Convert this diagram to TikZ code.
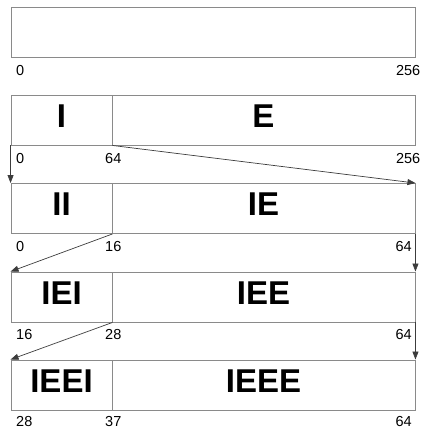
\documentclass[tikz,border=0pt]{standalone}
\usepackage{fontspec}
\setmainfont{Liberation Sans}
\usetikzlibrary{arrows.meta}
\definecolor{boxgray}{HTML}{8A8A8A}
\definecolor{arrowgray}{HTML}{3C3C3C}
\tikzset{
  cell/.style={draw=boxgray, line width=0.9pt, rectangle, inner sep=0pt, minimum height=50pt},
  leftcell/.style={cell, minimum width=101pt},
  rightcell/.style={cell, minimum width=303pt},
  big/.style={font=\fontsize{33}{33}\selectfont\bfseries, inner sep=0pt, anchor=base},
  num/.style={font=\fontsize{14.5}{14.5}\selectfont, inner sep=0pt},
  conn/.style={draw=arrowgray, line width=0.7pt, -{Triangle[length=8pt,width=6pt]}}
}
\begin{document}
\begin{tikzpicture}[x=1pt,y=-1pt]
\useasboundingbox (0,0) rectangle (424,428);
% row 1
\node[cell, minimum width=404pt] (r1) at (213,32) {};
\node[num, anchor=base west] (r1a) at (16,75) {0};
\node[num, anchor=base east] (r1b) at (420.5,75) {256};
% row 2
\node[leftcell] (r2L) at (61.5,120) {};
\node[rightcell] (r2R) at (263.5,120) {};
\node[big] (t2L) at (61.5,127) {I};
\node[big] (t2R) at (263.5,127) {E};
\node[num, anchor=base west] (r2a) at (16,163) {0};
\node[num, anchor=base west] (r2b) at (105,163) {64};
\node[num, anchor=base east] (r2c) at (420.5,163) {256};
% row 3
\node[leftcell] (r3L) at (61.5,208.5) {};
\node[rightcell] (r3R) at (263.5,208.5) {};
\node[big] (t3L) at (61.5,215.5) {II};
\node[big] (t3R) at (263.5,215.5) {IE};
\node[num, anchor=base west] (r3a) at (16,251.5) {0};
\node[num, anchor=base west] (r3b) at (105,251.5) {16};
\node[num, anchor=base east] (r3c) at (412,251.5) {64};
% row 4
\node[leftcell] (r4L) at (61.5,297) {};
\node[rightcell] (r4R) at (263.5,297) {};
\node[big] (t4L) at (61.5,304) {IEI};
\node[big] (t4R) at (263.5,304) {IEE};
\node[num, anchor=base west] (r4a) at (16,339.5) {16};
\node[num, anchor=base west] (r4b) at (105,339.5) {28};
\node[num, anchor=base east] (r4c) at (412,339.5) {64};
% row 5
\node[leftcell] (r5L) at (61.5,385) {};
\node[rightcell] (r5R) at (263.5,385) {};
\node[big] (t5L) at (61.5,392.5) {IEEI};
\node[big] (t5R) at (263.5,392.5) {IEEE};
\node[num, anchor=base west] (r5a) at (16,426) {28};
\node[num, anchor=base west] (r5b) at (105,426) {37};
\node[num, anchor=base east] (r5c) at (412,426) {64};
% connectors
\draw[conn] (r2L.south west) -- (r3L.north west);
\draw[conn] (r2L.south east) -- (r3R.north east);
\draw[conn] (r3L.south east) -- (r4L.north west);
\draw[conn] (r3R.south east) -- (r4R.north east);
\draw[conn] (r4L.south east) -- (r5L.north west);
\draw[conn] (r4R.south east) -- (r5R.north east);
\end{tikzpicture}
\end{document}
